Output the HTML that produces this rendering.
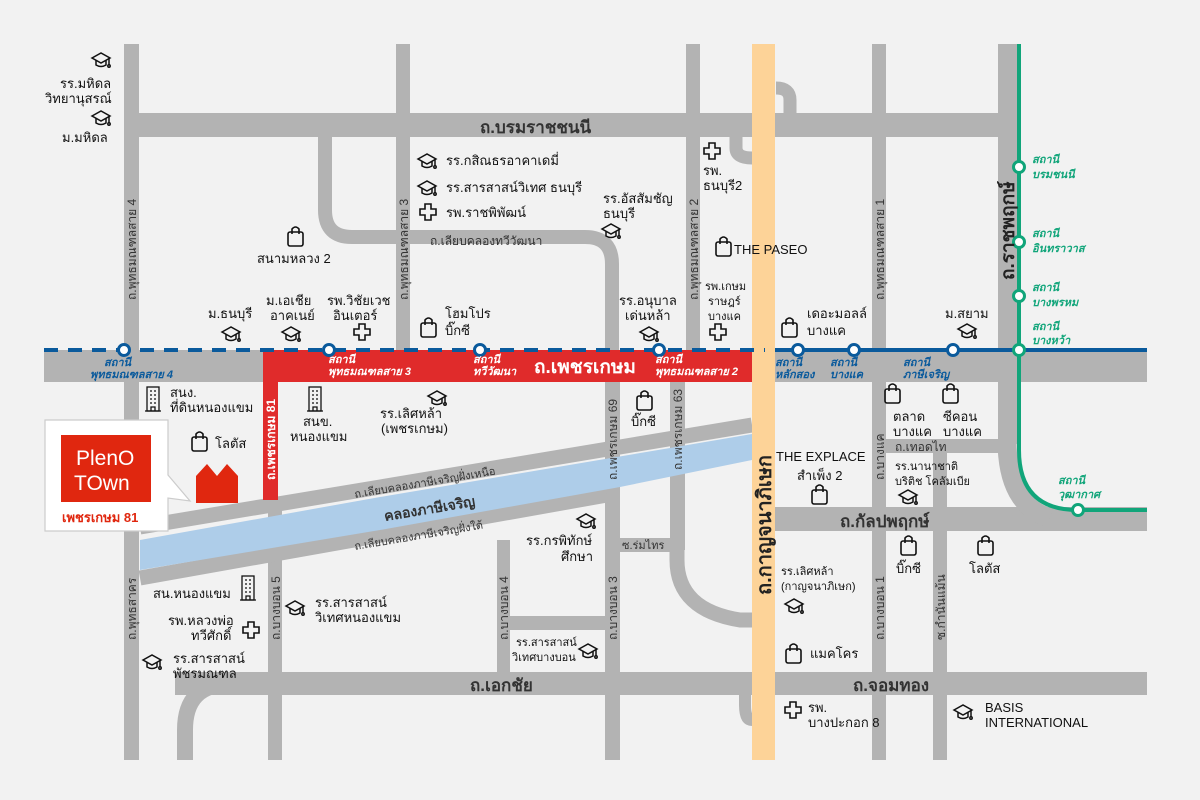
<!DOCTYPE html>
<html><head><meta charset="utf-8"><style>
html,body{margin:0;padding:0;background:#f2f2f2;}
svg{display:block;font-family:"Liberation Sans","Noto Sans CJK SC",sans-serif;}
.l{font-size:13px;fill:#111;}
.s{font-size:11px;fill:#111;}
.rd{font-size:17px;font-weight:bold;fill:#333;}
.rv{font-size:12px;fill:#333;}
.st{font-size:11px;font-style:italic;font-weight:bold;fill:#0a5a9c;}
.sw{font-size:11px;font-style:italic;font-weight:bold;fill:#fff;}
.sg{font-size:11px;font-style:italic;font-weight:bold;fill:#11a57a;}
</style></head><body>
<svg width="1200" height="800" viewBox="0 0 1200 800" xmlns="http://www.w3.org/2000/svg">
<defs>
<g id="cap" fill="none" stroke="#111" stroke-width="1.5"><path d="M0 6 L9 1 L18 6 L9 11 Z"/><path d="M4 8 V13 Q9 16 14 13 V8"/><path d="M17 6 V13"/><circle cx="17" cy="14" r="1.2"/></g>
<g id="bag" fill="none" stroke="#111" stroke-width="1.6"><rect x="0" y="6" width="15" height="14" rx="2"/><path d="M4 8 V3 Q7.5 -1 11 3 V8"/></g>
<g id="plus" fill="none" stroke="#111" stroke-width="1.6"><path d="M5 0 H11 V5 H16 V11 H11 V16 H5 V11 H0 V5 H5 Z"/></g>
<g id="bld" fill="none" stroke="#111" stroke-width="1.3"><rect x="2" y="0" width="12" height="24"/><path d="M0 24 H16 M5 4h2M9 4h2M5 8h2M9 8h2M5 12h2M9 12h2M5 16h2M9 16h2M6 24v-4h4v4"/></g>
</defs>
<rect width="1200" height="800" fill="#f2f2f2"/>
<g fill="#b3b3b3">
<rect x="124" y="113" width="893" height="24"/>
<rect x="124" y="44" width="15" height="716"/>
<rect x="396" y="44" width="14" height="306"/>
<rect x="686" y="44" width="14" height="306"/>
<rect x="872" y="44" width="14" height="716"/>
<rect x="998" y="44" width="19" height="400"/>
<rect x="933" y="440" width="14" height="320"/>
<rect x="605" y="380" width="15" height="380"/>
<rect x="670" y="380" width="15" height="170"/>
<rect x="268" y="500" width="14" height="260"/>
<rect x="497" y="540" width="13" height="132"/>
<rect x="510" y="616" width="95" height="14"/>
<rect x="620" y="538" width="50" height="14"/>
<rect x="44" y="350" width="1103" height="32"/>
<rect x="886" y="439" width="120" height="14"/>
<rect x="775" y="507" width="372" height="24"/>
<rect x="175" y="672" width="972" height="23"/>
</g>
<g fill="none" stroke="#b3b3b3">
<path d="M325 137 V210 Q325 237 352 237 H585 Q612 237 612 264 V350" stroke-width="14"/>
<path d="M790 113 V100 Q790 88 776 88" stroke-width="13"/>
<path d="M736 137 V148 Q736 158 752 158" stroke-width="13"/>
<path d="M677 540 V560 Q677 610 740 620 L752 620" stroke-width="15"/>
<path d="M1007 440 Q1007 505 1050 518" stroke-width="19"/>
<path d="M185 760 V730 Q185 684 230 684" stroke-width="16"/>
<path d="M745 695 V705 Q745 720 752 720" stroke-width="12"/>
<path d="M140 527 L752 425" stroke-width="15"/>
<path d="M140 578 L607 495" stroke-width="15"/>
</g>
<polygon points="140,540 380,497 670,448 752,434 752,460 620,487 380,530 140,570" fill="#aecde9"/>
<rect x="263" y="350" width="489" height="32" fill="#e02b2b"/>
<rect x="263" y="350" width="15" height="150" fill="#e02b2b"/>
<rect x="752" y="44" width="23" height="716" fill="#fdd398"/>
<line x1="44" y1="350" x2="765" y2="350" stroke="#0a5a9c" stroke-width="4" stroke-dasharray="14,10"/>
<line x1="775" y1="350" x2="1147" y2="350" stroke="#0a5a9c" stroke-width="4"/>
<path d="M1019 44 V450 Q1019 510 1078 510 H1147" fill="none" stroke="#11a57a" stroke-width="4"/>
<g fill="#fff" stroke="#0a5a9c" stroke-width="3">
<circle cx="124" cy="350" r="5.5"/><circle cx="329" cy="350" r="5.5"/><circle cx="480" cy="350" r="5.5"/><circle cx="659" cy="350" r="5.5"/><circle cx="798" cy="350" r="5.5"/><circle cx="854" cy="350" r="5.5"/><circle cx="953" cy="350" r="5.5"/>
</g>
<g fill="#fff" stroke="#11a57a" stroke-width="3">
<circle cx="1019" cy="167" r="5.5"/><circle cx="1019" cy="242" r="5.5"/><circle cx="1019" cy="296" r="5.5"/><circle cx="1019" cy="350" r="5.5"/><circle cx="1078" cy="510" r="5.5"/>
</g>
<text class="st" x="104" y="366">สถานี</text><text class="st" x="90" y="378">พุทธมณฑลสาย 4</text>
<text class="sw" x="328" y="363">สถานี</text><text class="sw" x="328" y="375">พุทธมณฑลสาย 3</text>
<text class="sw" x="473" y="363">สถานี</text><text class="sw" x="473" y="375">ทวีวัฒนา</text>
<text class="sw" x="655" y="363">สถานี</text><text class="sw" x="655" y="375">พุทธมณฑลสาย 2</text>
<text class="st" x="775" y="366">สถานี</text><text class="st" x="775" y="378">หลักสอง</text>
<text class="st" x="830" y="366">สถานี</text><text class="st" x="830" y="378">บางแค</text>
<text class="st" x="903" y="366">สถานี</text><text class="st" x="903" y="378">ภาษีเจริญ</text>
<text class="sg" x="1032" y="163">สถานี</text><text class="sg" x="1032" y="178">บรมชนนี</text>
<text class="sg" x="1032" y="237">สถานี</text><text class="sg" x="1032" y="252">อินทราวาส</text>
<text class="sg" x="1032" y="291">สถานี</text><text class="sg" x="1032" y="306">บางพรหม</text>
<text class="sg" x="1032" y="330">สถานี</text><text class="sg" x="1032" y="344">บางหว้า</text>
<text class="sg" x="1058" y="484">สถานี</text><text class="sg" x="1058" y="498">วุฒากาศ</text>
<text class="rd" x="480" y="133">ถ.บรมราชชนนี</text>
<text x="534" y="373" style="font-size:19px;font-weight:bold;fill:#fff">ถ.เพชรเกษม</text>
<text class="rd" x="840" y="527">ถ.กัลปพฤกษ์</text>
<text class="rd" x="470" y="691">ถ.เอกชัย</text>
<text class="rd" x="853" y="691">ถ.จอมทอง</text>
<text x="430" y="245" style="font-size:12px;fill:#333">ถ.เลียบคลองทวีวัฒนา</text>
<text x="895" y="451" style="font-size:12px;fill:#333">ถ.เทอดไท</text>
<text x="622" y="549" style="font-size:11px;fill:#333">ซ.ร่มไทร</text>
<text transform="translate(385,521) rotate(-9.5)" style="font-size:14px;font-weight:bold;fill:#333">คลองภาษีเจริญ</text>
<text transform="translate(355,498) rotate(-9.5)" style="font-size:11px;fill:#333">ถ.เลียบคลองภาษีเจริญฝั่งเหนือ</text>
<text transform="translate(355,550) rotate(-9.5)" style="font-size:11px;fill:#333">ถ.เลียบคลองภาษีเจริญฝั่งใต้</text>
<g class="rv">
<text transform="translate(136,300) rotate(-90)">ถ.พุทธมณฑลสาย 4</text>
<text transform="translate(408,300) rotate(-90)">ถ.พุทธมณฑลสาย 3</text>
<text transform="translate(698,300) rotate(-90)">ถ.พุทธมณฑลสาย 2</text>
<text transform="translate(884,300) rotate(-90)">ถ.พุทธมณฑลสาย 1</text>
<text transform="translate(617,480) rotate(-90)">ถ.เพชรเกษม 69</text>
<text transform="translate(682,470) rotate(-90)">ถ.เพชรเกษม 63</text>
<text transform="translate(136,640) rotate(-90)">ถ.พุทธสาคร</text>
<text transform="translate(280,640) rotate(-90)">ถ.บางบอน 5</text>
<text transform="translate(508,640) rotate(-90)">ถ.บางบอน 4</text>
<text transform="translate(617,640) rotate(-90)">ถ.บางบอน 3</text>
<text transform="translate(884,480) rotate(-90)">ถ.บางแค</text>
<text transform="translate(945,640) rotate(-90)">ซ.กำนันแม้น</text>
<text transform="translate(884,640) rotate(-90)">ถ.บางบอน 1</text>
</g>
<text transform="translate(275,480) rotate(-90)" style="font-size:12px;font-weight:bold;fill:#fff">ถ.เพชรเกษม 81</text>
<text transform="translate(771,595) rotate(-90)" style="font-size:20px;font-weight:bold;fill:#222">ถ.กาญจนาภิเษก</text>
<text transform="translate(1014,280) rotate(-90)" style="font-size:19px;font-weight:bold;fill:#222">ถ.ราชพฤกษ์</text>
<use href="#cap" x="92" y="52"/><text class="l" x="60" y="88">รร.มหิดล</text><text class="l" x="45" y="103">วิทยานุสรณ์</text>
<use href="#cap" x="92" y="110"/><text class="l" x="62" y="142">ม.มหิดล</text>
<use href="#cap" x="418" y="153"/><text class="l" x="446" y="165">รร.กสิณธรอาคาเดมี่</text>
<use href="#cap" x="418" y="180"/><text class="l" x="446" y="192">รร.สารสาสน์วิเทศ ธนบุรี</text>
<use href="#plus" x="420" y="204"/><text class="l" x="446" y="217">รพ.ราชพิพัฒน์</text>
<text class="l" x="603" y="203">รร.อัสสัมชัญ</text><text class="l" x="603" y="218">ธนบุรี</text><use href="#cap" x="602" y="223"/>
<use href="#plus" x="704" y="143"/><text class="l" x="703" y="175">รพ.</text><text class="l" x="703" y="190">ธนบุรี2</text>
<use href="#bag" x="288" y="226"/><text class="l" x="257" y="263">สนามหลวง 2</text>
<use href="#bag" x="716" y="236"/><text class="l" x="734" y="254">THE PASEO</text>
<text class="l" x="208" y="318">ม.ธนบุรี</text><use href="#cap" x="222" y="326"/>
<text class="l" x="266" y="305">ม.เอเชีย</text><text class="l" x="270" y="320">อาคเนย์</text><use href="#cap" x="282" y="326"/>
<text class="l" x="327" y="305">รพ.วิชัยเวช</text><text class="l" x="333" y="320">อินเตอร์</text><use href="#plus" x="354" y="324"/>
<use href="#bag" x="421" y="317"/><text class="l" x="445" y="318">โฮมโปร</text><text class="l" x="445" y="335">บิ๊กซี</text>
<text class="l" x="619" y="305">รร.อนุบาล</text><text class="l" x="625" y="320">เด่นหล้า</text><use href="#cap" x="640" y="326"/>
<text class="s" x="705" y="290">รพ.เกษม</text><text class="s" x="708" y="305">ราษฎร์</text><text class="s" x="708" y="320">บางแค</text><use href="#plus" x="710" y="324"/>
<use href="#bag" x="782" y="317"/><text class="l" x="807" y="318">เดอะมอลล์</text><text class="l" x="807" y="335">บางแค</text>
<text class="l" x="945" y="318">ม.สยาม</text><use href="#cap" x="958" y="323"/>
<use href="#bld" x="145" y="387"/><text class="l" x="170" y="397">สนง.</text><text class="l" x="170" y="412">ที่ดินหนองแขม</text>
<use href="#bag" x="192" y="431"/><text class="l" x="215" y="448">โลตัส</text>
<use href="#bld" x="307" y="387"/><text class="l" x="303" y="426">สนข.</text><text class="l" x="290" y="441">หนองแขม</text>
<use href="#cap" x="428" y="390"/><text class="l" x="380" y="418">รร.เลิศหล้า</text><text class="l" x="381" y="433">(เพชรเกษม)</text>
<use href="#bag" x="637" y="390"/><text class="l" x="631" y="426">บิ๊กซี</text>
<use href="#bag" x="885" y="383"/><text class="l" x="893" y="421">ตลาด</text><text class="l" x="893" y="436">บางแค</text>
<use href="#bag" x="943" y="383"/><text class="l" x="943" y="421">ซีคอน</text><text class="l" x="943" y="436">บางแค</text>
<text class="l" x="776" y="461">THE EXPLACE</text><text class="l" x="797" y="480">สำเพ็ง 2</text><use href="#bag" x="812" y="484"/>
<text class="s" x="895" y="470">รร.นานาชาติ</text><text class="s" x="895" y="485">บริติช โคลัมเบีย</text><use href="#cap" x="899" y="489"/>
<use href="#cap" x="577" y="513"/><text class="l" x="526" y="545">รร.กรพิทักษ์</text><text class="l" x="561" y="561">ศึกษา</text>
<use href="#bag" x="901" y="535"/><text class="l" x="896" y="573">บิ๊กซี</text>
<use href="#bag" x="978" y="535"/><text class="l" x="969" y="573">โลตัส</text>
<text class="s" x="781" y="575">รร.เลิศหล้า</text><text class="s" x="781" y="590">(กาญจนาภิเษก)</text><use href="#cap" x="785" y="598"/>
<text class="l" x="153" y="598">สน.หนองแขม</text><use href="#bld" x="240" y="576"/>
<use href="#cap" x="286" y="600"/><text class="l" x="315" y="607">รร.สารสาสน์</text><text class="l" x="315" y="622">วิเทศหนองแขม</text>
<text class="l" x="168" y="625">รพ.หลวงพ่อ</text><text class="l" x="191" y="640">ทวีศักดิ์</text><use href="#plus" x="243" y="622"/>
<use href="#cap" x="143" y="654"/><text class="l" x="173" y="663">รร.สารสาสน์</text><text class="l" x="173" y="678">พัชรมณฑล</text>
<text class="s" x="516" y="646">รร.สารสาสน์</text><text class="s" x="512" y="661">วิเทศบางบอน</text><use href="#cap" x="579" y="643"/>
<use href="#bag" x="786" y="643"/><text class="l" x="810" y="658">แมคโคร</text>
<use href="#plus" x="785" y="702"/><text class="l" x="808" y="712">รพ.</text><text class="l" x="808" y="727">บางปะกอก 8</text>
<use href="#cap" x="954" y="704"/><text class="l" x="985" y="712">BASIS</text><text class="l" x="985" y="727">INTERNATIONAL</text>
<path d="M45 420 H168 V475 L190 501 L168 498 V531 H45 Z" fill="#fff" stroke="#ccc" stroke-width="1.2"/>
<rect x="61" y="435" width="90" height="67" fill="#e0270f"/>
<text x="76" y="465" style="font-size:21px;fill:#fff">PlenO</text>
<text x="74" y="490" style="font-size:21px;fill:#fff">TOwn</text>
<text x="62" y="522" style="font-size:13px;font-weight:bold;fill:#e0270f">เพชรเกษม 81</text>
<path d="M196 476 L207 464 L217 476 L227 464 L238 476 V503 H196 Z" fill="#e0270f"/>
</svg>
</body></html>
